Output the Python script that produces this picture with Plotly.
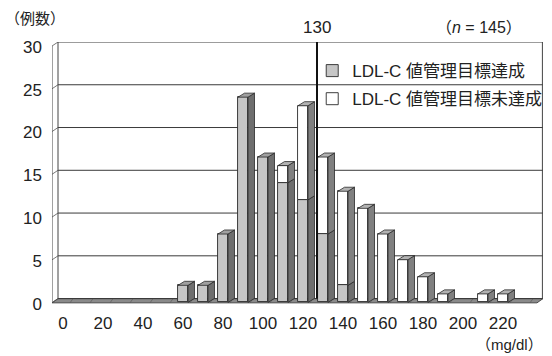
import plotly.graph_objects as go

# LDL-C distribution (10 mg/dl bins), counts per bin
bins = [0, 10, 20, 30, 40, 50, 60, 70, 80, 90, 100, 110,
        120, 130, 140, 150, 160, 170, 180, 190, 200, 210, 220, 230]
achieved = [0, 0, 0, 0, 0, 0, 2, 2, 8, 24, 17, 14,
            12, 8, 2, 0, 0, 0, 0, 0, 0, 0, 0, 0]
not_achieved = [0, 0, 0, 0, 0, 0, 0, 0, 0, 0, 0, 2,
                11, 9, 11, 11, 8, 5, 3, 1, 0, 1, 1, 0]
x_tick_values = [0, 20, 40, 60, 80, 100, 120, 140, 160, 180, 200, 220]
y_tick_values = [0, 5, 10, 15, 20, 25, 30]
target_label = "130"
target_pos = 127
n_total = 145

NAME_A = "LDL-C 値管理目標達成"
NAME_B = "LDL-C 値管理目標未達成"

# pseudo-3D geometry (axis units)
HALF_W = 2.5      # half width of a column's front face
DX, DY = 3.25, 0.47   # depth offset of the side/top faces
BASE = -0.45      # front bottom edge of the columns
X0, X1 = -5.5, 240.0
Y0, Y1 = -0.75, 30.0

FONT = "Liberation Sans, Noto Sans CJK JP, sans-serif"
C_A_FRONT, C_A_SIDE, C_A_TOP = "#c6c6c6", "#6e6e6e", "#a0a0a0"
C_B_FRONT, C_B_SIDE, C_B_TOP = "#ffffff", "#808080", "#b2b2b2"
EDGE = "#2a2a2a"


def nz(v):
    return [t if t > 0 else None for t in v]


fig = go.Figure()

# front faces
fig.add_trace(go.Bar(
    x=bins, y=nz(achieved), base=[BASE] * len(bins), width=2 * HALF_W,
    name=NAME_A, legendgroup="a",
    marker=dict(color=C_A_FRONT, line=dict(color=EDGE, width=0.9)),
))
fig.add_trace(go.Bar(
    x=bins, y=nz(not_achieved), base=[a + BASE for a in achieved], width=2 * HALF_W,
    name=NAME_B, legendgroup="b",
    marker=dict(color=C_B_FRONT, line=dict(color=EDGE, width=0.9)),
))


def polys(segments):
    xs, ys = [], []
    for pts in segments:
        for px, py in pts + [pts[0]]:
            xs.append(px)
            ys.append(py)
        xs.append(None)
        ys.append(None)
    return xs, ys


def side(c, lo, hi):
    r = c + HALF_W
    return [(r, lo), (r + DX, lo + DY), (r + DX, hi + DY), (r, hi)]


def top(c, h):
    l, r = c - HALF_W, c + HALF_W
    return [(l, h), (r, h), (r + DX, h + DY), (l + DX, h + DY)]


side_a, side_b, top_a, top_b = [], [], [], []
for c, a, b in zip(bins, achieved, not_achieved):
    if a > 0:
        side_a.append(side(c, BASE, a + BASE))
    if b > 0:
        side_b.append(side(c, a + BASE, a + b + BASE))
    if b > 0:
        top_b.append(top(c, a + b + BASE))
    elif a > 0:
        top_a.append(top(c, a + BASE))

for segs, col in [(side_a, C_A_SIDE), (side_b, C_B_SIDE), (top_a, C_A_TOP), (top_b, C_B_TOP)]:
    xs, ys = polys(segs)
    fig.add_trace(go.Scatter(
        x=xs, y=ys, mode="lines", fill="toself", fillcolor=col,
        line=dict(color=EDGE, width=0.8), showlegend=False, hoverinfo="skip",
    ))

shapes = []
wall_l = X0 + 3.0
# floor
shapes.append(dict(type="path", layer="below",
                   path=f"M {X0},{BASE - 0.05} L {X1 - 3.0},{BASE - 0.05} L {X1},0 L {wall_l},0 Z",
                   fillcolor="#8a8a8a", line=dict(color=EDGE, width=0.8)))
# floor bin separators
for c in bins:
    sx = c + 5
    shapes.append(dict(type="line", layer="below", x0=sx - 1.5, x1=sx, y0=BASE - 0.05, y1=0,
                       line=dict(color="#555555", width=0.6)))
# back-wall gridlines + side-wall ticks
for v in y_tick_values:
    shapes.append(dict(type="line", layer="below", x0=wall_l, x1=X1, y0=v, y1=v,
                       line=dict(color="#3a3a3a", width=1)))
    shapes.append(dict(type="line", layer="below", x0=X0, x1=wall_l, y0=v - DY, y1=v,
                       line=dict(color="#555555", width=0.8)))
    shapes.append(dict(type="line", layer="below", x0=X0 - 1.5, x1=X0, y0=v - DY, y1=v - DY,
                       line=dict(color="#555555", width=0.8)))
# wall outlines
shapes.append(dict(type="line", layer="below", x0=X0, x1=X0, y0=BASE - 0.05, y1=Y1 - DY,
                   line=dict(color="#444444", width=1)))
shapes.append(dict(type="line", layer="below", x0=wall_l, x1=wall_l, y0=0, y1=Y1,
                   line=dict(color="#444444", width=1)))
shapes.append(dict(type="line", layer="below", x0=X1 - 0.3, x1=X1 - 0.3, y0=0, y1=Y1,
                   line=dict(color="#444444", width=1)))
# target line
shapes.append(dict(type="line", layer="above", x0=target_pos, x1=target_pos, y0=0, y1=Y1,
                   line=dict(color="#111111", width=2)))

fig.update_layout(
    width=552, height=356,
    margin=dict(l=52, r=9, t=42, b=51, autoexpand=False),
    paper_bgcolor="white", plot_bgcolor="white",
    barmode="overlay", bargap=0,
    font=dict(family=FONT, size=17, color="#222222"),
    shapes=shapes,
    showlegend=True,
    legend=dict(x=0.53, y=0.958, xanchor="left", yanchor="top",
                bgcolor="rgba(0,0,0,0)", borderwidth=0,
                font=dict(size=17, family=FONT), tracegroupgap=3,
                itemwidth=30),
    xaxis=dict(range=[X0, X1], showgrid=False, zeroline=False, showline=False,
               tickvals=x_tick_values, ticktext=[str(v) for v in x_tick_values],
               ticks="", ticklabelstandoff=6, tickfont=dict(size=17)),
    yaxis=dict(range=[Y0, Y1], showgrid=False, zeroline=False, showline=False,
               tickvals=y_tick_values, ticktext=[str(v) for v in y_tick_values],
               ticks="", ticklabelstandoff=9, ticklabelshift=5, tickfont=dict(size=17)),
    annotations=[
        dict(text="（例数）", xref="paper", yref="paper", x=-0.1, y=1.091,
             xanchor="left", yanchor="middle", showarrow=False, font=dict(size=15)),
        dict(text=target_label, xref="x", yref="paper", x=target_pos, y=1.057,
             xanchor="center", yanchor="middle", showarrow=False, font=dict(size=17)),
        dict(text=f"（<i>n</i> = {n_total}）", xref="paper", yref="paper", x=0.962, y=1.057,
             xanchor="right", yanchor="middle", showarrow=False, font=dict(size=16)),
        dict(text="（mg/dl）", xref="paper", yref="paper", x=1.004, y=-0.152,
             xanchor="right", yanchor="middle", showarrow=False, font=dict(size=15)),
    ],
)

fig.write_html("out.html")
